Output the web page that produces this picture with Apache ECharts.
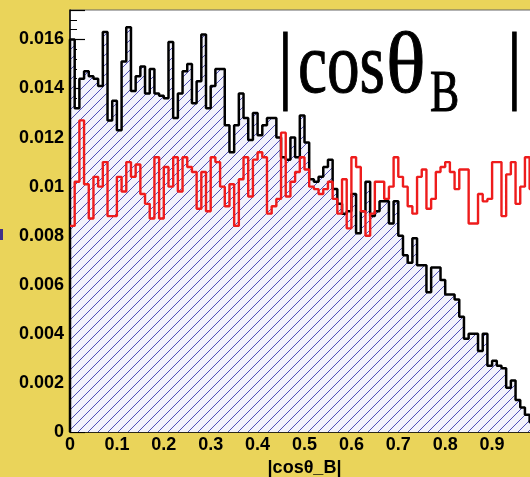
<!DOCTYPE html>
<html>
<head>
<meta charset="utf-8">
<script src="https://cdn.jsdelivr.net/npm/echarts@6/dist/echarts.min.js"></script>
<style>
html,body{margin:0;padding:0;background:#EAD45A;}
#main{width:530px;height:477px;}
</style>
</head>
<body>
<div id="main"></div>
<script>
// bin width of both histograms along |cos theta_B|
const binWidth = 0.01;
// black hatched histogram (signal), 100 bins from 0 to 1
const signal = [
0.0160,0.0132,0.0144,0.0147,0.0145,0.0144,0.0141,0.0163,0.0127,0.0135,
0.0123,0.0151,0.0165,0.0139,0.0145,0.0149,0.0138,0.0148,0.0138,0.0137,
0.0136,0.0159,0.0128,0.0138,0.0147,0.0150,0.0134,0.0143,0.0162,0.0132,
0.0141,0.0148,0.0148,0.0125,0.0114,0.0125,0.0138,0.0128,0.0119,0.0130,
0.0121,0.0125,0.0128,0.0128,0.0120,0.0112,0.0111,0.0120,0.0112,0.0129,
0.0118,0.0103,0.0102,0.0104,0.0108,0.0111,0.0099,0.0093,0.0089,0.0090,
0.0097,0.0081,0.0090,0.0102,0.0088,0.0090,0.0094,0.0094,0.0085,0.0094,
0.0080,0.0072,0.0069,0.0079,0.0068,0.0068,0.0057,0.0067,0.0067,0.0062,
0.0056,0.0056,0.0054,0.0047,0.0038,0.0040,0.0040,0.0033,0.0040,0.0027,
0.0029,0.0027,0.0026,0.0018,0.0021,0.0013,0.0010,0.0007,0.0004,0.0002
];
// red histogram (background), 100 bins from 0 to 1
const background = [
0.0084,0.0102,0.0127,0.0101,0.0087,0.0104,0.0100,0.0110,0.0088,0.0088,
0.0104,0.0098,0.0110,0.0104,0.0109,0.0097,0.0093,0.0087,0.0112,0.0087,
0.0108,0.0100,0.0112,0.0098,0.0112,0.0108,0.0106,0.0091,0.0106,0.0090,
0.0112,0.0110,0.0100,0.0092,0.0101,0.0084,0.0103,0.0112,0.0096,0.0111,
0.0114,0.0112,0.0089,0.0092,0.0095,0.0122,0.0096,0.0102,0.0106,0.0112,
0.0107,0.0100,0.0099,0.0097,0.0099,0.0102,0.0095,0.0089,0.0103,0.0083,
0.0112,0.0108,0.0090,0.0080,0.0089,0.0102,0.0102,0.0095,0.0100,0.0112,
0.0104,0.0100,0.0092,0.0089,0.0104,0.0107,0.0091,0.0095,0.0106,0.0108,
0.0110,0.0106,0.0099,0.0107,0.0107,0.0085,0.0085,0.0097,0.0094,0.0095,
0.0110,0.0110,0.0088,0.0105,0.0110,0.0093,0.0100,0.0112,0.0099,0.0078
];
const xTicks = [0,0.1,0.2,0.3,0.4,0.5,0.6,0.7,0.8,0.9,1];
const yTicks = [0,0.002,0.004,0.006,0.008,0.01,0.012,0.014,0.016];
const yMax = 0.0172;

function toSteps(vals, closeLeft){
  const n = vals.length;
  const pts = closeLeft ? [[0,0]] : [];
  vals.forEach((v,i)=>pts.push([+(i*binWidth).toFixed(4), v]));
  pts.push([+(n*binWidth).toFixed(4), vals[n-1]]);
  if (closeLeft) pts.push([+(n*binWidth).toFixed(4), 0]);
  return pts;
}

// hatch pattern
const T = 10;
const pc = document.createElement('canvas');
pc.width = T; pc.height = T;
const px = pc.getContext('2d');
px.fillStyle = '#f2f2fb';
px.fillRect(0,0,T,T);
px.strokeStyle = '#3b3bb0';
px.lineWidth = 0.9;
px.beginPath();
px.moveTo(-1,T+1); px.lineTo(T+1,-1);
px.moveTo(-1,1); px.lineTo(1,-1);
px.moveTo(T-1,T+1); px.lineTo(T+1,T-1);
px.stroke();

const chart = echarts.init(document.getElementById('main'), null, {renderer:'canvas'});
const labelFont = {color:'#000', fontWeight:'bold', fontSize:18, fontFamily:'"Liberation Sans", Arial, sans-serif'};
const serif = '"Liberation Serif", "Times New Roman", serif';
const titleStyle = (t, size) => ({text:t, font:size+'px '+serif, fill:'#000', stroke:'#000', lineWidth:1, textVerticalAlign:'middle'});
const option = {
  backgroundColor:'#EAD45A',
  animation:false,
  grid:{left:70, top:10, width:469, bottom:45, outerBoundsMode:'none', containLabel:false, show:true, backgroundColor:'#ffffff', borderColor:'#666', borderWidth:1},
  xAxis:{
    type:'value', min:xTicks[0], max:xTicks[xTicks.length-1], interval:0.1,
    axisLine:{lineStyle:{color:'#000', width:1.5}},
    axisTick:{inside:true, length:12, lineStyle:{color:'#000', width:1.2}},
    minorTick:{show:true, splitNumber:5, length:5, lineStyle:{color:'#000', width:1}},
    splitLine:{show:false},
    axisLabel:Object.assign({margin:4, formatter:v=>String(+v.toFixed(2))}, labelFont),
    name:'|cosθ_B|', nameLocation:'middle', nameGap:26,
    nameTextStyle:Object.assign({}, labelFont)
  },
  yAxis:{
    type:'value', min:yTicks[0], max:yMax, interval:0.002,
    axisLine:{show:true, lineStyle:{color:'#000', width:1.5}},
    axisTick:{inside:true, length:15, lineStyle:{color:'#000', width:1.2}},
    minorTick:{show:true, splitNumber:5, length:7, lineStyle:{color:'#000', width:1}},
    splitLine:{show:false},
    axisLabel:Object.assign({margin:6, showMaxLabel:false, formatter:v=>{
      const r = Math.round(v/0.002);
      if (Math.abs(v - r*0.002) > 1e-9) return '';
      return String(+v.toFixed(3));
    }}, labelFont)
  },
  series:[
    {type:'line', step:'end', symbol:'none', data:toSteps(signal, true),
     lineStyle:{color:'#000', width:2.5},
     areaStyle:{color:{image:pc, repeat:'repeat'}, opacity:1}, z:2},
    {type:'line', step:'end', symbol:'none', data:toSteps(background, false),
     lineStyle:{color:'#ee1c1c', width:2.4}, z:3}
  ],
  graphic:[
    {type:'rect', shape:{x:0,y:229,width:3,height:11}, style:{fill:'#40308a'}},
    {type:'text', x:278, y:69, z:100, scaleX:0.85, style:titleStyle('|',87)},
    {type:'text', x:298, y:69, z:100, scaleX:0.75, style:titleStyle('cos',87)},
    {type:'text', x:386, y:69, z:100, scaleX:0.95, style:titleStyle('θ',87)},
    {type:'text', x:430, y:95, z:100, scaleX:0.73, style:titleStyle('B',60)},
    {type:'text', x:507, y:69, z:100, scaleX:0.85, style:titleStyle('|',87)}
  ]
};
chart.setOption(option);
</script>
</body>
</html>
